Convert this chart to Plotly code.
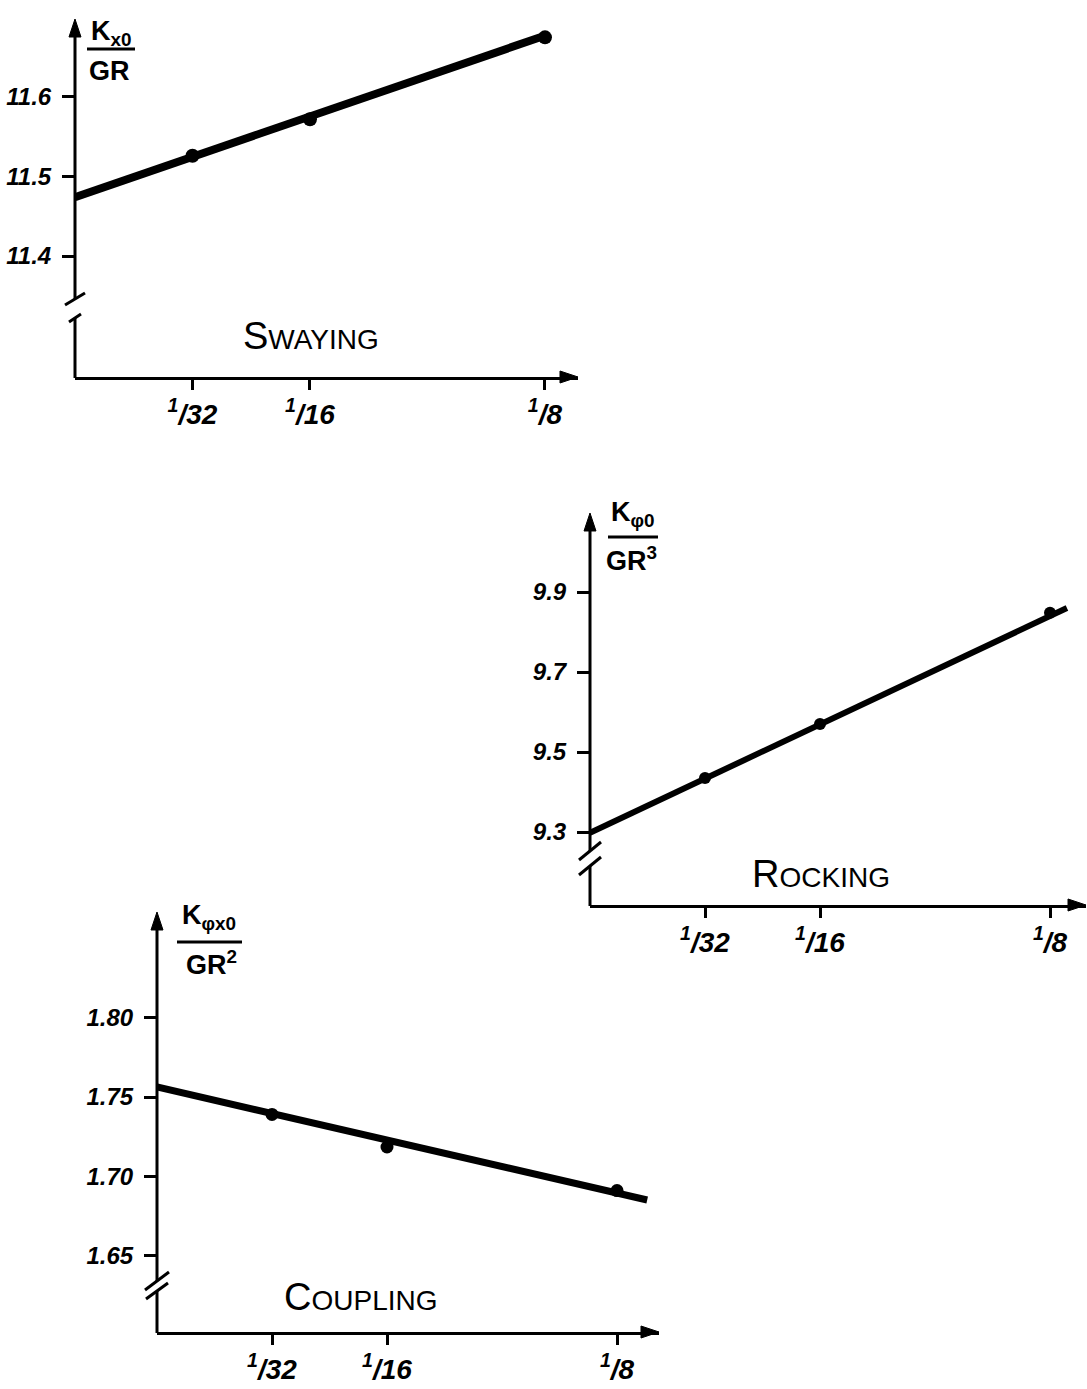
import plotly.graph_objects as go

W, H = 1087, 1389

# ---------------- data ----------------
# abscissa: relative size (fraction of R)
frac_vals = [1 / 32, 1 / 16, 1 / 8]
frac_text = ["<sup>1</sup>/32", "<sup>1</sup>/16", "<sup>1</sup>/8"]

# Swaying stiffness  K_x0 / GR
sway_x = [1 / 32, 1 / 16, 1 / 8]
sway_y = [11.526, 11.572, 11.675]
sway_line_x = [0.0, 0.1255]
sway_line_y = [11.474, 11.678]
sway_ticks = [11.4, 11.5, 11.6]
sway_ticktext = ["11.4", "11.5", "11.6"]

# Rocking stiffness  K_phi0 / GR^3
rock_x = [1 / 32, 1 / 16, 1 / 8]
rock_y = [9.435, 9.570, 9.848]
rock_line_x = [0.0, 0.1296]
rock_line_y = [9.298, 9.860]
rock_ticks = [9.3, 9.5, 9.7, 9.9]
rock_ticktext = ["9.3", "9.5", "9.7", "9.9"]

# Coupling stiffness  K_phix0 / GR^2
coup_x = [1 / 32, 1 / 16, 1 / 8]
coup_y = [1.739, 1.7185, 1.691]
coup_line_x = [0.0, 0.1332]
coup_line_y = [1.7563, 1.6851]
coup_ticks = [1.65, 1.70, 1.75, 1.80]
coup_ticktext = ["1.65", "1.70", "1.75", "1.80"]

# ---------------- layout helpers ----------------
def px_x(p):
    return p / W


def px_y(p):
    return 1 - p / H


HAND = "Liberation Sans"

panels = [
    dict(s="", x=sway_x, y=sway_y, lx=sway_line_x, ly=sway_line_y,
         yt=sway_ticks, ytt=sway_ticktext,
         left=75, right=578, bottom=377, top=19,
         xrange=[0, 0.13378], yrange=[11.2478, 11.6981],
         lw=8, ms=14,
         gap=(11.322, 11.3459),
         slashes=[(11.3459, 10, 6), (11.322, 6, 4)],
         num="K<sub>x0</sub>", den="GR",
         num_xy=(111, 33), bar=(87, 135, 49), den_xy=(109, 71),
         label="<span style='font-size:38px'>S</span>WAYING", label_xy=(311, 336)),
    dict(s="2", x=rock_x, y=rock_y, lx=rock_line_x, ly=rock_line_y,
         yt=rock_ticks, ytt=rock_ticktext,
         left=590, right=1086, bottom=905, top=513,
         xrange=[0, 0.13478], yrange=[9.1175, 10.0975],
         lw=6, ms=12,
         gap=(9.215, 9.2525),
         slashes=[(9.2525, 11, 9), (9.215, 11, 9)],
         num="K<sub>φ0</sub>", den="GR<sup>3</sup>",
         num_xy=(633, 514), bar=(608, 658, 537), den_xy=(631, 559),
         label="<span style='font-size:38px'>R</span>OCKING", label_xy=(821, 874)),
    dict(s="3", x=coup_x, y=coup_y, lx=coup_line_x, ly=coup_line_y,
         yt=coup_ticks, ytt=coup_ticktext,
         left=157, right=659, bottom=1332, top=912,
         xrange=[0, 0.13641], yrange=[1.6019, 1.8666],
         lw=7, ms=13,
         gap=(1.6277, 1.634),
         slashes=[(1.634, 12, 9), (1.6277, 11, 8)],
         num="K<sub>φx0</sub>", den="GR<sup>2</sup>",
         num_xy=(209, 917), bar=(177, 242, 942), den_xy=(211, 963),
         label="<span style='font-size:38px'>C</span>OUPLING", label_xy=(360, 1297)),
]

fig = go.Figure()
shapes = []
annotations = []
layout_axes = {}

tick_font = dict(family=HAND, size=24, color="black", weight="bold", style="italic")
xtick_font = dict(family=HAND, size=28, color="black", weight="bold", style="italic")
INK = dict(color="black", width=3)


def seg(x0, y0, x1, y1):
    """Straight stroke given in page pixels."""
    return dict(type="line", xref="paper", yref="paper", layer="above",
                x0=px_x(x0), y0=px_y(y0), x1=px_x(x1), y1=px_y(y1), line=INK)


def tri(pts):
    """Filled arrowhead given in page pixels."""
    path = "M " + " L ".join(f"{px_x(a):.6f},{px_y(b):.6f}" for a, b in pts) + " Z"
    return dict(type="path", xref="paper", yref="paper", layer="above",
                path=path, fillcolor="black", line=dict(color="black", width=1))


for p in panels:
    s = p["s"]
    xa, ya = "x" + s, "y" + s
    r0, r1 = p["yrange"]

    def ypix(v, p=p, r0=r0, r1=r1):
        return p["bottom"] - (v - r0) / (r1 - r0) * (p["bottom"] - p["top"])

    # fitted straight line and measured points
    fig.add_trace(go.Scatter(x=p["lx"], y=p["ly"], mode="lines",
                             line=dict(color="black", width=p["lw"]),
                             xaxis=xa, yaxis=ya, showlegend=False,
                             hoverinfo="skip"))
    fig.add_trace(go.Scatter(x=p["x"], y=p["y"], mode="markers",
                             marker=dict(color="black", size=p["ms"]),
                             xaxis=xa, yaxis=ya, showlegend=False))

    layout_axes["xaxis" + s] = dict(
        domain=[px_x(p["left"]), px_x(p["right"])], range=p["xrange"],
        anchor=ya, tickmode="array", tickvals=frac_vals, ticktext=frac_text,
        ticks="outside", ticklen=10, tickwidth=3, tickcolor="black",
        showline=True, linewidth=3, linecolor="black",
        showgrid=False, zeroline=False, tickfont=xtick_font,
        ticklabelstandoff=0, fixedrange=True)
    layout_axes["yaxis" + s] = dict(
        domain=[px_y(p["bottom"]), px_y(p["top"])], range=p["yrange"],
        anchor=xa, tickmode="array", tickvals=p["yt"], ticktext=p["ytt"],
        ticks="outside", ticklen=12, tickwidth=3, tickcolor="black",
        showline=False, showgrid=False, zeroline=False, tickfont=tick_font,
        ticklabelstandoff=6, fixedrange=True)

    L, B, T, R = p["left"], p["bottom"], p["top"], p["right"]

    # vertical axis drawn in two pieces around the scale break
    g_lo, g_hi = p["gap"]
    shapes.append(seg(L, B + 1, L, ypix(g_lo)))
    shapes.append(seg(L, ypix(g_hi), L, T + 10))
    # break slashes
    for (yv, dx, dy) in p["slashes"]:
        yc = ypix(yv)
        shapes.append(seg(L - dx, yc + dy, L + dx, yc - dy))

    # arrowheads
    shapes.append(tri([(L - 6, T + 18), (L, T), (L + 6, T + 18)]))
    shapes.append(tri([(R - 18, B - 6), (R, B), (R - 18, B + 6)]))

    # ordinate title written as a fraction
    for txt, (cx, cy) in [(p["num"], p["num_xy"]), (p["den"], p["den_xy"])]:
        annotations.append(dict(x=px_x(cx), y=px_y(cy),
                                xref="paper", yref="paper", text=txt,
                                showarrow=False, xanchor="center", yanchor="middle",
                                font=dict(family=HAND, size=27, color="black",
                                          weight="bold")))
    x0b, x1b, yb = p["bar"]
    shapes.append(seg(x0b, yb, x1b, yb))

    # panel name
    annotations.append(dict(x=px_x(p["label_xy"][0]), y=px_y(p["label_xy"][1]),
                            xref="paper", yref="paper", text=p["label"],
                            showarrow=False, xanchor="center", yanchor="middle",
                            font=dict(family=HAND, size=28, color="black")))

fig.update_layout(
    width=W, height=H,
    margin=dict(l=0, r=0, t=0, b=0),
    paper_bgcolor="white", plot_bgcolor="white",
    showlegend=False,
    shapes=shapes, annotations=annotations,
    **layout_axes,
)

fig.write_html("out.html", config={"displayModeBar": False})
